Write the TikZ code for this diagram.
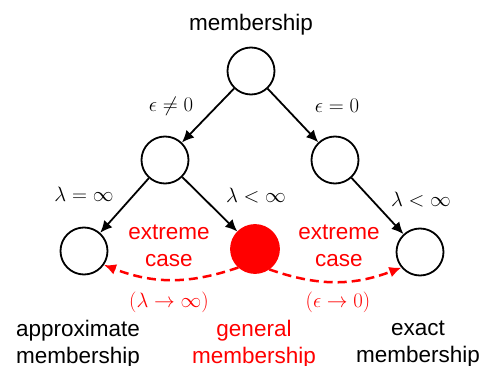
\documentclass[tikz,border=0pt]{standalone}
\usepackage{fontspec}
\setmainfont{Liberation Sans}
\usetikzlibrary{arrows.meta}
\definecolor{myred}{RGB}{255,0,0}
\begin{document}
\begin{tikzpicture}[x=1pt,y=-1pt,
  circ/.style={circle,draw=black,line width=1.8pt,minimum size=47pt,inner sep=0pt},
  redcirc/.style={circle,fill=myred,draw=myred,line width=1.8pt,minimum size=48pt,inner sep=0pt},
  arr/.style={line width=1.8pt,-{Latex[length=12pt,width=11pt]}},
  redarr/.style={myred,line width=2.5pt,dash pattern=on 9pt off 5pt,-{Latex[length=12pt,width=11pt]}},
  txt/.style={inner sep=0pt,align=center,font=\fontsize{22.5}{26.5}\selectfont},
  mlab/.style={inner sep=0pt,font=\fontsize{22}{26}\selectfont},
]
\useasboundingbox (0,0) rectangle (485,366);
\node[circ] (root) at (251,71) {};
\node[circ] (lm) at (165,160) {};
\node[circ] (rm) at (335,160) {};
\node[circ] (lb) at (84,251) {};
\node[redcirc] (gen) at (255,249) {};
\node[circ] (rb) at (420,252) {};

\draw[arr] (root) -- (lm);
\draw[arr] (root) -- (rm);
\draw[arr] (lm) -- (lb);
\draw[arr] (lm) -- (gen);
\draw[arr] (rm) -- (rb);

\draw[redarr] (gen.228) to[bend left=20] (lb.-35);
\draw[redarr] (gen.-55) to[bend right=20] (rb.-140);

\node[txt] (ttop) at (251,25) {membership};
\node[mlab] (e1) at (171,106) {$\epsilon\neq 0$};
\node[mlab] (e2) at (337,106) {$\epsilon = 0$};
\node[mlab] (l1) at (84,194) {$\lambda = \infty$};
\node[mlab] (l2) at (256,196) {$\lambda < \infty$};
\node[mlab] (l3) at (421,200) {$\lambda < \infty$};
\node[txt,text=myred] (ex1) at (169,246) {extreme\\case};
\node[txt,text=myred] (ex2) at (339,246) {extreme\\case};
\node[mlab,text=myred] (p1) at (169,302) {$(\lambda\rightarrow\infty)$};
\node[mlab,text=myred] (p2) at (338,302) {$(\epsilon\rightarrow 0)$};
\node[txt] (b1) at (78,344) {approximate\\membership};
\node[txt,text=myred] (b2) at (254,344) {general\\membership};
\node[txt] (b3) at (418,344) {exact\\membership};
\end{tikzpicture}
\end{document}
